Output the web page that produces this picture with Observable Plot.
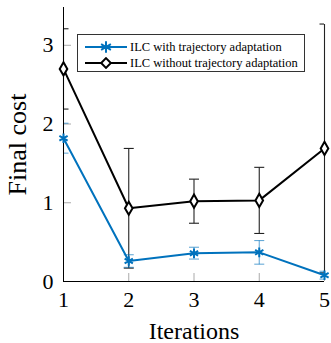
<!DOCTYPE html>
<html>
<head>
<meta charset="utf-8">
<script src="https://cdn.jsdelivr.net/npm/d3@7"></script>
<script src="https://cdn.jsdelivr.net/npm/@observablehq/plot@0.6"></script>
<style>
  html, body { margin: 0; padding: 0; background: #fff; }
  #wrap { position: relative; width: 331px; height: 343px; font-family: "Liberation Serif", "Times New Roman", serif; }
  #legend { position: absolute; left: 77px; top: 34px; width: 228px; height: 38px; box-sizing: border-box;
            border: 1px solid #333; background: #fff; font-size: 12.5px; color: #000; padding-top: 4px; }
  .row { display: flex; align-items: center; height: 16px; }
  .row svg { margin-left: 7px; margin-right: 3px; }
</style>
</head>
<body>
<div id="wrap"></div>
<script>
const iterations = [1, 2, 3, 4, 5];
const withAdapt = [1.82, 0.26, 0.36, 0.37, 0.08];
const withAdaptErr = [0.19, 0.08, 0.075, 0.15, 0.05];
const withoutAdapt = [2.70, 0.93, 1.02, 1.03, 1.69];
const withoutAdaptErr = [0.51, 0.76, 0.28, 0.42, 1.58];
const seriesNames = ["ILC with trajectory adaptation", "ILC without trajectory adaptation"];
const xTicks = [1, 2, 3, 4, 5];
const yTicks = [0, 1, 2, 3];

const blue = "#0072BD";
const serif = "Liberation Serif";

const rowsA = iterations.map((x, i) => ({x, y: withAdapt[i], lo: withAdapt[i] - withAdaptErr[i], hi: withAdapt[i] + withAdaptErr[i]}));
const rowsB = iterations.map((x, i) => ({x, y: withoutAdapt[i], lo: withoutAdapt[i] - withoutAdaptErr[i], hi: withoutAdapt[i] + withoutAdaptErr[i]}));

const capSymbol = { draw(ctx, size) { const w = 5; ctx.moveTo(-w, 0); ctx.lineTo(w, 0); } };

const plot = Plot.plot({
  width: 331,
  height: 343,
  marginLeft: 63,
  marginRight: 7,
  marginTop: 7,
  marginBottom: 62,
  style: { fontFamily: serif, background: "#fff" },
  x: { domain: [1, 5] },
  y: { domain: [0, 3.48] },
  marks: [
    // inward grey tick marks
    Plot.axisX(xTicks, { tickSize: -8, stroke: "#aaa", text: null, label: null }),
    Plot.axisY(yTicks, { tickSize: -8, stroke: "#aaa", text: null, label: null }),
    // tick labels
    Plot.axisX(xTicks, { tickSize: 0, tickPadding: 10, fontSize: 22, label: null, tickFormat: d => String(d) }),
    Plot.axisY(yTicks, { tickSize: 0, tickPadding: 10, fontSize: 22, label: null, tickFormat: d => String(d) }),
    // axis titles
    Plot.axisX([], { label: "Iterations", labelAnchor: "center", labelArrow: "none", fontSize: 24, labelOffset: 57, tickSize: 0 }),
    Plot.axisY([], { label: "Final cost", labelAnchor: "center", labelArrow: "none", fontSize: 26, labelOffset: 56, tickSize: 0 }),
    // error bars (caps clipped to the frame)
    Plot.link(rowsB, { x1: "x", x2: "x", y1: "lo", y2: "hi", stroke: "#222", strokeWidth: 1.1 }),
    Plot.dot(rowsB, { x: "x", y: "lo", symbol: capSymbol, stroke: "#222", strokeWidth: 1.1, clip: true }),
    Plot.dot(rowsB, { x: "x", y: "hi", symbol: capSymbol, stroke: "#222", strokeWidth: 1.1, clip: true }),
    Plot.link(rowsA, { x1: "x", x2: "x", y1: "lo", y2: "hi", stroke: blue, strokeOpacity: 0.6, strokeWidth: 1.1 }),
    Plot.dot(rowsA, { x: "x", y: "lo", symbol: capSymbol, stroke: blue, strokeOpacity: 0.6, strokeWidth: 1.1, clip: true }),
    Plot.dot(rowsA, { x: "x", y: "hi", symbol: capSymbol, stroke: blue, strokeOpacity: 0.6, strokeWidth: 1.1, clip: true }),
    // axis lines
    Plot.ruleX([1], { stroke: "#000", strokeWidth: 1 }),
    Plot.ruleY([0], { stroke: "#000", strokeWidth: 1 }),
    // series
    Plot.line(rowsB, { x: "x", y: "y", stroke: "#000", strokeWidth: 2 }),
    Plot.dot(rowsB, { x: "x", y: "y", symbol: "diamond", r: 4, fill: "#fff", stroke: "#000", strokeWidth: 2 }),
    Plot.line(rowsA, { x: "x", y: "y", stroke: blue, strokeWidth: 2 }),
    Plot.dot(rowsA, { x: "x", y: "y", symbol: "asterisk", r: 4.5, stroke: blue, strokeWidth: 2 })
  ]
});

const wrap = document.getElementById("wrap");
wrap.appendChild(plot);

// legend
const legend = document.createElement("div");
legend.id = "legend";
const swatches = [
  { color: blue, symbol: d3.symbolAsterisk, fill: "none", size: 90 },
  { color: "#000", symbol: d3.symbolDiamond2, fill: "#fff", size: 60 }
];
seriesNames.forEach((name, i) => {
  const row = document.createElement("div");
  row.className = "row";
  const s = swatches[i];
  const svg = d3.create("svg").attr("width", 42).attr("height", 12);
  svg.append("line").attr("x1", 0).attr("x2", 42).attr("y1", 6).attr("y2", 6)
     .attr("stroke", s.color).attr("stroke-width", 2);
  svg.append("path").attr("transform", "translate(21,6)")
     .attr("d", d3.symbol(s.symbol, s.size)())
     .attr("fill", s.fill).attr("stroke", s.color).attr("stroke-width", 2);
  row.appendChild(svg.node());
  const span = document.createElement("span");
  span.textContent = name;
  row.appendChild(span);
  legend.appendChild(row);
});
wrap.appendChild(legend);
</script>
</body>
</html>
